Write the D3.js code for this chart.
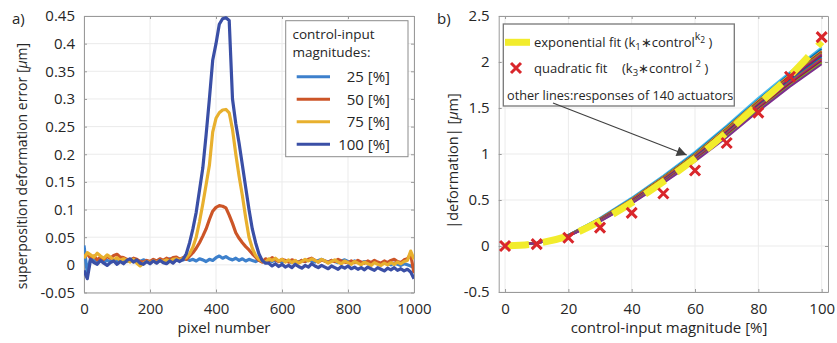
<!DOCTYPE html>
<html><head><meta charset="utf-8">
<script src="https://cdn.jsdelivr.net/npm/d3@7"></script>
<style>
body{margin:0;background:#fff}
svg{display:block}
text{font-family:"Open Sans",sans-serif;fill:#262626}
</style>
</head><body>
<svg id="c" width="837" height="343"></svg>
<script>
// ---------- Panel a data ----------
const pixelNumbers = d3.range(0, 1001, 10);
const err25 = [0.035,-0.015,0.012,0.008,0.006,0.010,0.005,0.008,0.006,0.009,
 0.007,0.010,0.008,0.006,0.009,0.011,0.008,0.006,0.009,0.007,
 0.005,0.008,0.006,0.010,0.007,0.009,0.011,0.008,0.012,0.010,
 0.009,0.011,0.008,0.010,0.007,0.011,0.009,0.006,0.010,0.008,
 0.013,0.016,0.012,0.015,0.011,0.009,0.012,0.008,0.011,0.007,
 0.010,0.008,0.006,0.009,0.007,0.005,0.008,0.006,0.009,0.007,
 0.005,0.008,0.006,0.004,0.007,0.005,0.008,0.006,0.009,0.007,
 0.005,0.008,0.010,0.007,0.005,0.008,0.006,0.004,0.007,0.009,
 0.006,0.004,0.007,0.005,0.003,0.006,0.004,0.002,0.005,0.003,
 0.001,0.004,0.002,0.000,0.003,0.001,-0.001,0.002,0.000,-0.002,-0.005];
const err50 = [0.015,0.020,0.012,0.016,0.009,0.014,0.010,0.015,0.012,0.017,
 0.019,0.014,0.013,0.010,0.008,0.012,0.010,0.006,0.005,0.008,
 0.006,0.010,0.007,0.011,0.008,0.012,0.009,0.013,0.014,0.010,
 0.013,0.010,0.016,0.022,0.030,0.040,0.052,0.065,0.082,0.097,
 0.104,0.107,0.106,0.103,0.090,0.075,0.058,0.048,0.040,0.033,
 0.027,0.020,0.014,0.008,0.005,0.011,0.008,0.013,0.009,0.006,
 0.010,0.008,0.005,0.009,0.007,0.004,0.008,0.006,0.010,0.012,
 0.008,0.005,0.009,0.007,0.004,0.008,0.006,0.010,0.007,0.005,
 0.004,0.007,0.004,0.008,0.005,0.003,0.007,0.004,0.008,0.005,
 0.003,0.007,0.004,0.008,0.010,0.006,0.004,0.009,0.011,0.019,-0.015];
const err75 = [0.012,0.022,0.018,0.014,0.021,0.016,0.012,0.018,0.014,0.009,
 0.013,0.008,0.011,0.008,0.005,0.010,0.003,-0.002,0.003,0.006,
 0.004,0.007,0.004,0.008,0.006,0.009,0.006,0.010,0.011,0.008,
 0.012,0.013,0.020,0.032,0.050,0.078,0.110,0.145,0.180,0.240,
 0.265,0.275,0.280,0.281,0.275,0.245,0.200,0.160,0.125,0.085,
 0.050,0.030,0.017,0.010,0.007,0.005,0.011,0.008,0.012,0.007,
 0.010,0.005,0.009,0.004,0.008,0.003,0.006,0.010,0.007,0.011,
 0.008,0.005,0.010,0.007,0.003,0.006,0.009,0.005,0.002,0.007,
 0.004,0.001,0.006,0.003,0.000,0.005,0.002,-0.001,0.004,0.001,
 -0.001,0.003,0.000,0.004,0.001,0.005,0.002,0.006,0.008,0.025,0.010];
const err100 = [-0.010,-0.025,0.010,0.004,0.001,0.008,0.003,-0.001,0.004,0.007,
 0.001,0.006,0.002,0.008,0.011,0.005,0.009,0.003,0.001,0.006,
 0.002,0.007,0.003,0.008,0.004,0.002,0.007,0.003,0.009,0.006,
 0.010,0.020,0.040,0.065,0.095,0.135,0.175,0.235,0.300,0.370,
 0.400,0.435,0.445,0.447,0.442,0.300,0.255,0.220,0.180,0.140,
 0.100,0.065,0.040,0.020,0.008,0.003,0.003,-0.002,0.002,-0.003,
 0.001,-0.004,-0.001,-0.005,0.001,-0.003,-0.006,-0.001,-0.004,0.002,
 -0.002,-0.005,-0.001,-0.004,-0.007,-0.002,-0.005,-0.008,-0.003,-0.006,
 -0.002,-0.007,-0.004,-0.008,-0.005,-0.009,-0.004,-0.007,-0.010,-0.005,
 -0.008,-0.011,-0.006,-0.009,-0.005,-0.010,-0.007,-0.011,-0.008,-0.013,-0.025];
const seriesNamesA = ["25 [%]","50 [%]","75 [%]","100 [%]"];
const seriesColorsA = ["#3d80cc","#cc5527","#e8b02e","#3a4fa6"];
const xTicksA = [0,200,400,600,800,1000];
const xTickLabelsA = ["0","200","400","600","800","1000"];
const yTicksA = [-0.05,0,0.05,0.1,0.15,0.2,0.25,0.3,0.35,0.4,0.45];
const yTickLabelsA = ["-0.05","0","0.05","0.1","0.15","0.2","0.25","0.3","0.35","0.4","0.45"];

// ---------- Panel b data ----------
const control = [0,10,20,30,40,50,60,70,80,90,100];
const act01 = [0,0.036,0.122,0.305,0.525,0.765,1.025,1.31,1.61,1.89,2.16];
const act02 = [0,0.035,0.120,0.300,0.515,0.755,1.010,1.295,1.59,1.875,2.14];
const act03 = [0,0.035,0.119,0.297,0.510,0.750,1.000,1.285,1.58,1.86,2.12];
const act04 = [0,0.034,0.118,0.295,0.505,0.745,0.995,1.275,1.57,1.85,2.11];
const act05 = [0,0.034,0.117,0.292,0.500,0.738,0.988,1.265,1.56,1.84,2.10];
const act06 = [0,0.033,0.116,0.290,0.497,0.732,0.980,1.255,1.55,1.83,2.09];
const act07 = [0,0.033,0.115,0.287,0.493,0.726,0.972,1.245,1.54,1.82,2.08];
const act08 = [0,0.032,0.113,0.284,0.488,0.720,0.965,1.235,1.53,1.805,2.065];
const act09 = [0,0.032,0.112,0.281,0.484,0.714,0.958,1.226,1.52,1.795,2.05];
const act10 = [0,0.031,0.111,0.278,0.480,0.708,0.950,1.217,1.51,1.782,2.035];
const act11 = [0,0.031,0.109,0.275,0.475,0.702,0.942,1.208,1.498,1.77,2.02];
const act12 = [0,0.030,0.108,0.272,0.470,0.695,0.935,1.198,1.487,1.757,2.005];
const act13 = [0,0.030,0.107,0.269,0.466,0.690,0.927,1.189,1.475,1.745,1.99];
const act14 = [0,0.029,0.105,0.266,0.461,0.683,0.920,1.180,1.465,1.732,1.975];
const actuatorColors = ["#4DBEEE","#0072BD","#EDB120","#A2142F","#77AC30","#D95319","#7E2F8E",
                        "#A2142F","#0072BD","#D95319","#7E2F8E","#A2142F","#77AC30","#7E2F8E"];
const expFit = [0,0.028,0.11,0.27,0.47,0.70,0.95,1.235,1.54,1.85,2.22];
const quadFit = [0,0.02,0.09,0.20,0.36,0.57,0.82,1.12,1.45,1.84,2.27];
const xTicksB = [0,20,40,60,80,100];
const xTickLabelsB = ["0","20","40","60","80","100"];
const yTicksB = [-0.5,0,0.5,1,1.5,2,2.5];
const yTickLabelsB = ["-0.5","0","0.5","1","1.5","2","2.5"];

// ---------- drawing ----------
const svg = d3.select("#c");
const AXC = "#9a9a9a", GRID = "#ebebeb";

function frame(g, x, y, xt, xl, yt, yl, id) {
  const [x0,x1] = x.range(), [y1,y0] = y.range();
  g.append("g").selectAll("line").data(xt).join("line")
    .attr("x1", d=>x(d)).attr("x2", d=>x(d)).attr("y1", y0).attr("y2", y1)
    .attr("stroke", GRID).attr("stroke-width", 1);
  g.append("g").selectAll("line").data(yt).join("line")
    .attr("y1", d=>y(d)).attr("y2", d=>y(d)).attr("x1", x0).attr("x2", x1)
    .attr("stroke", GRID).attr("stroke-width", 1);
  const ax = [
    [d3.axisBottom(x).tickValues(xt).tickFormat((d,i)=>xl[i]), `translate(0,${y1})`],
    [d3.axisTop(x).tickValues(xt).tickFormat(""), `translate(0,${y0})`],
    [d3.axisLeft(y).tickValues(yt).tickFormat((d,i)=>yl[i]), `translate(${x0},0)`],
    [d3.axisRight(y).tickValues(yt).tickFormat(""), `translate(${x1},0)`]
  ];
  ax.forEach(([a,t],k)=>{
    const ag = g.append("g").attr("transform", t).call(a.tickSizeInner(-3).tickSizeOuter(0).tickPadding(k<2?11:9));
    ag.select(".domain").attr("stroke", AXC);
    ag.selectAll(".tick line").attr("stroke", AXC);
    ag.selectAll(".tick text").attr("font-size", 15).attr("fill", "#262626").attr("font-family", '"Open Sans",sans-serif');
  });
  svg.append("clipPath").attr("id", id).append("rect")
    .attr("x", x0).attr("y", y0).attr("width", x1-x0).attr("height", y1-y0);
}

// Panel a
const xa = d3.scaleLinear().domain([0,1000]).range([84,414]);
const ya = d3.scaleLinear().domain([-0.05,0.45]).range([292.5,16]);
const ga = svg.append("g");
frame(ga, xa, ya, xTicksA, xTickLabelsA, yTicksA, yTickLabelsA, "clipA");
const seriesA = [err25, err50, err75, err100];
const lineA = d3.line().x((d,i)=>xa(pixelNumbers[i])).y(d=>ya(d));
ga.append("g").attr("clip-path","url(#clipA)").selectAll("path").data(seriesA).join("path")
  .attr("d", lineA).attr("fill","none").attr("stroke",(d,i)=>seriesColorsA[i])
  .attr("stroke-width",3.2).attr("stroke-linejoin","round");

// legend a
const la = ga.append("g");
la.append("rect").attr("x",285.7).attr("y",20.7).attr("width",122.3).attr("height",136)
  .attr("fill","#fff").attr("stroke","#8c8c8c").attr("stroke-width",1);
la.append("text").attr("x",292.5).attr("y",38.5).attr("font-size",13.5).text("control-input");
la.append("text").attr("x",292.5).attr("y",56.5).attr("font-size",13.5).text("magnitudes:");
seriesNamesA.forEach((n,i)=>{
  const yy = 76.7 + i*22.5;
  la.append("line").attr("x1",296.7).attr("x2",330).attr("y1",yy).attr("y2",yy)
    .attr("stroke",seriesColorsA[i]).attr("stroke-width",3);
  la.append("text").attr("x",390).attr("y",yy+5.5).attr("text-anchor","end").attr("font-size",15).text(n);
});

// axis labels a
ga.append("text").attr("x",224).attr("y",333).attr("text-anchor","middle").attr("font-size",15).text("pixel number");
const yla = ga.append("text").attr("transform","translate(27,166) rotate(-90)").attr("text-anchor","middle").attr("font-size",14);
yla.append("tspan").text("superposition deformation error [");
yla.append("tspan").attr("font-style","italic").text("μ");
yla.append("tspan").text("m]");
ga.append("text").attr("x",12).attr("y",24).attr("font-size",15).text("a)");

// Panel b
const xb = d3.scaleLinear().domain([-2,102]).range([498.7,828]);
const yb = d3.scaleLinear().domain([-0.5,2.5]).range([292,16]);
const gb = svg.append("g");
frame(gb, xb, yb, xTicksB, xTickLabelsB, yTicksB, yTickLabelsB, "clipB");
const actuators = [act01,act02,act03,act04,act05,act06,act07,act08,act09,act10,act11,act12,act13,act14];
const lineB = d3.line().x((d,i)=>xb(control[i])).y(d=>yb(d));
const pb = gb.append("g").attr("clip-path","url(#clipB)");
pb.selectAll("path.act").data(actuators).join("path").attr("class","act")
  .attr("d", lineB).attr("fill","none").attr("stroke",(d,i)=>actuatorColors[i]).attr("stroke-width",2);
pb.append("path").attr("d", d3.line().curve(d3.curveMonotoneX).x((d,i)=>xb(control[i])).y(d=>yb(d))(expFit))
  .attr("fill","none").attr("stroke","#f2ec2c").attr("stroke-width",7).attr("stroke-dasharray","24,14");
const xs = 5;
pb.selectAll("path.q").data(quadFit).join("path").attr("class","q")
  .attr("d",(d,i)=>{const cx=xb(control[i]), cy=yb(d);
    return `M${cx-xs},${cy-xs}L${cx+xs},${cy+xs}M${cx-xs},${cy+xs}L${cx+xs},${cy-xs}`;})
  .attr("stroke","#d9262b").attr("stroke-width",3).attr("fill","none");

// legend b
const lb = gb.append("g");
lb.append("rect").attr("x",503.3).attr("y",24).attr("width",231).attr("height",82)
  .attr("fill","#fff").attr("stroke","#777").attr("stroke-width",1.3);
lb.append("line").attr("x1",505).attr("x2",530).attr("y1",42.3).attr("y2",42.3).attr("stroke","#f2ec2c").attr("stroke-width",7);
const t1 = lb.append("text").attr("x",534).attr("y",47).attr("font-size",13);
t1.append("tspan").text("exponential fit (k");
t1.append("tspan").attr("dy",3).attr("font-size",9.5).text("1");
t1.append("tspan").attr("dy",-3).text("∗control");
t1.append("tspan").attr("dy",-7).attr("font-size",10.5).text("k");
t1.append("tspan").attr("dy",3).attr("font-size",8.5).text("2");
t1.append("tspan").attr("dy",4).text(" )");
lb.append("path").attr("d","M511,63L521,73M511,73L521,63").attr("stroke","#d9262b").attr("stroke-width",3);
lb.append("text").attr("x",534).attr("y",73).attr("font-size",13).text("quadratic fit");
const t2 = lb.append("text").attr("x",622).attr("y",73).attr("font-size",13);
t2.append("tspan").text("(k");
t2.append("tspan").attr("dy",3).attr("font-size",9.5).text("3");
t2.append("tspan").attr("dy",-3).text("∗control ");
t2.append("tspan").attr("dy",-6).attr("font-size",9.5).text("2");
t2.append("tspan").attr("dy",6).text(" )");
lb.append("text").attr("x",507).attr("y",100).attr("font-size",12.7).text("other lines:responses of 140 actuators");

// arrow
svg.append("defs").append("marker").attr("id","ah").attr("viewBox","0 0 10 10").attr("refX",10).attr("refY",5)
  .attr("markerWidth",14).attr("markerHeight",10).attr("markerUnits","userSpaceOnUse").attr("orient","auto")
  .append("path").attr("d","M0,0L10,5L0,10z").attr("fill","#404040");
gb.append("line").attr("x1",553).attr("y1",103).attr("x2",686.7).attr("y2",155)
  .attr("stroke","#404040").attr("stroke-width",1.2).attr("marker-end","url(#ah)");

// axis labels b
gb.append("text").attr("x",669).attr("y",333).attr("text-anchor","middle").attr("font-size",15).text("control-input magnitude [%]");
const ylb = gb.append("text").attr("transform","translate(458,161) rotate(-90)").attr("text-anchor","middle").attr("font-size",14.5);
ylb.append("tspan").text("|deformation| [");
ylb.append("tspan").attr("font-style","italic").text("μ");
ylb.append("tspan").text("m]");
gb.append("text").attr("x",437).attr("y",24).attr("font-size",15).text("b)");
</script>
</body></html>
